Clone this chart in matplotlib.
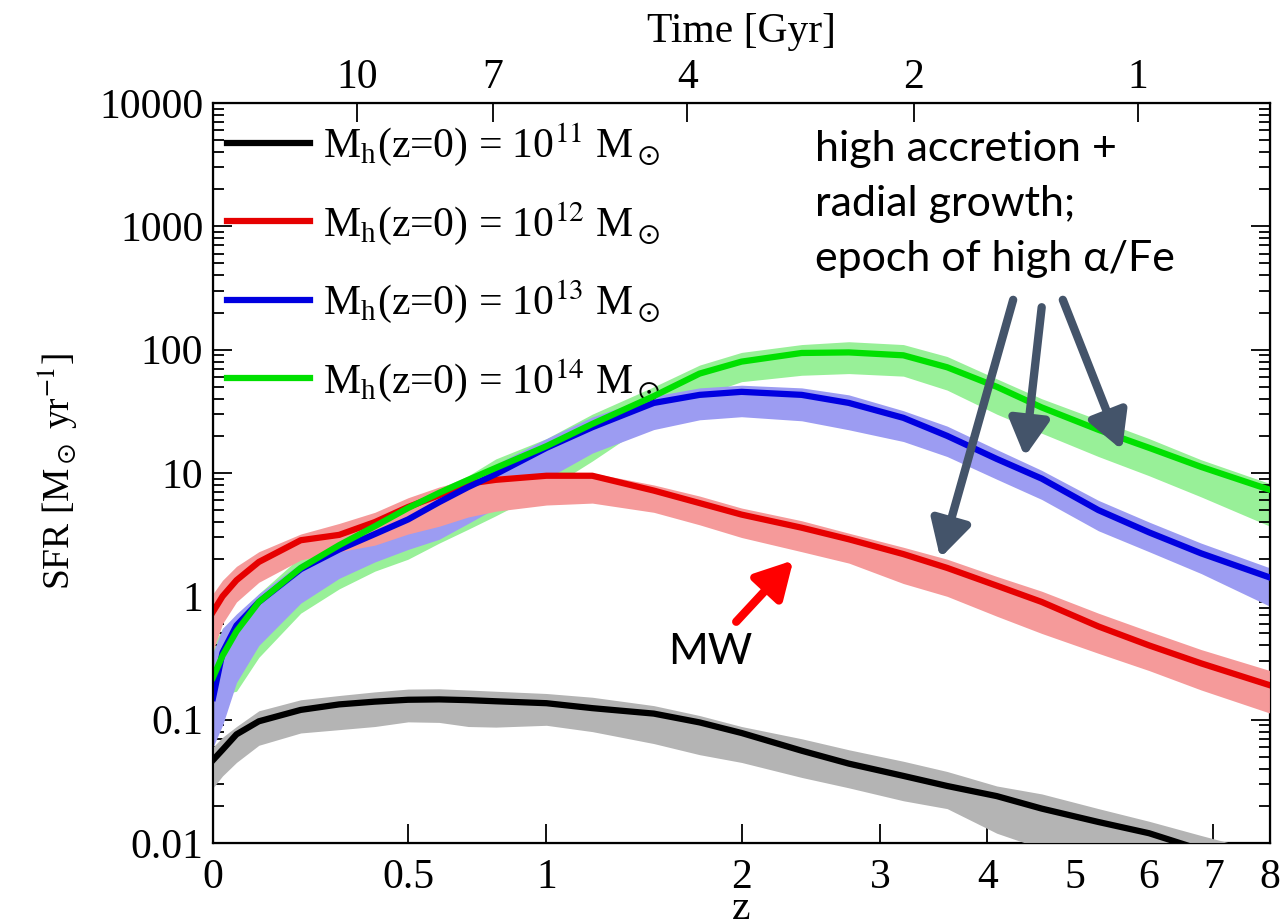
import numpy as np
import matplotlib
matplotlib.use('Agg')
import matplotlib.pyplot as plt
from matplotlib.ticker import NullLocator, LogLocator, NullFormatter

plt.rcParams['font.family'] = ['Liberation Serif', 'DejaVu Serif']
plt.rcParams['mathtext.fontset'] = 'stix'

# redshift grid the curves were read at
z = [0, 0.02, 0.05, 0.1, 0.2, 0.3, 0.4, 0.5, 0.6, 0.7, 0.8, 1.0, 1.2, 1.5, 1.75,
     2.0, 2.4, 2.75, 3.2, 3.6, 4.1, 4.6, 5.3, 6.0, 6.8, 8.0]

# SFR [Msun/yr] median and band edges for each halo mass
sfr_11 = [0.047, 0.057, 0.076, 0.097, 0.12, 0.133, 0.14, 0.145, 0.146, 0.144, 0.141, 0.136,
          0.124, 0.112, 0.095, 0.078, 0.056, 0.044, 0.035, 0.029, 0.024, 0.019, 0.0148,
          0.012, 0.0088, 0.006]
sfr_11_hi = [0.06, 0.072, 0.088, 0.118, 0.145, 0.157, 0.168, 0.177, 0.178, 0.174, 0.17, 0.163,
             0.152, 0.13, 0.108, 0.088, 0.07, 0.057, 0.046, 0.038, 0.029, 0.025, 0.019,
             0.015, 0.0115, 0.0082]
sfr_11_lo = [0.028, 0.035, 0.045, 0.062, 0.078, 0.083, 0.088, 0.096, 0.095, 0.088, 0.087, 0.09,
             0.08, 0.064, 0.052, 0.045, 0.034, 0.028, 0.022, 0.019, 0.012, 0.009, 0.0065,
             0.005, 0.004, 0.003]

sfr_12 = [0.75, 1.0, 1.35, 1.9, 2.85, 3.15, 4.0, 5.3, 6.6, 8.2, 8.8, 9.5, 9.5, 7.2, 5.7,
          4.6, 3.6, 2.9, 2.2, 1.7, 1.22, 0.9, 0.57, 0.4, 0.286, 0.19]
sfr_12_hi = [1.05, 1.35, 1.75, 2.3, 3.2, 3.9, 4.8, 6.3, 7.7, 8.9, 9.5, 10.0, 10.0, 8.0, 6.5,
             5.2, 4.1, 3.25, 2.5, 2.0, 1.45, 1.1, 0.73, 0.52, 0.37, 0.25]
sfr_12_lo = [0.36, 0.6, 0.9, 1.3, 1.97, 2.3, 2.6, 3.2, 3.7, 4.4, 4.9, 5.5, 5.7, 4.8, 3.8,
             3.0, 2.3, 1.86, 1.27, 1.0, 0.69, 0.5, 0.345, 0.25, 0.174, 0.113]

sfr_13 = [0.15, 0.35, 0.58, 0.9, 1.66, 2.4, 3.2, 4.2, 5.8, 7.7, 9.8, 16, 23.5, 37, 43,
          45.5, 43, 37, 28, 20, 13, 9.0, 5.0, 3.3, 2.23, 1.42]
sfr_13_hi = [0.35, 0.55, 0.72, 1.05, 1.86, 2.6, 3.5, 4.8, 6.6, 8.8, 11.8, 19, 28.5, 42, 49,
             51.5, 49, 43, 32, 24, 15.5, 10.5, 6.0, 4.0, 2.7, 1.7]
sfr_13_lo = [0.06, 0.09, 0.2, 0.4, 0.88, 1.4, 1.9, 2.4, 2.9, 3.9, 5.2, 9.0, 14.5, 22.5, 27,
             28.6, 26.5, 22.4, 18, 13.6, 8.9, 6.1, 3.4, 2.3, 1.53, 0.83]

sfr_14 = [0.22, 0.33, 0.52, 0.9, 1.7, 2.6, 3.7, 5.2, 6.9, 8.8, 11, 16.5, 25, 42, 64,
          80, 94, 95, 90, 72, 50, 34, 22.4, 16, 11.2, 7.3]
sfr_14_hi = [0.4, 0.55, 0.68, 1.05, 2.1, 3.0, 4.1, 5.6, 7.5, 9.5, 13, 19, 30, 50, 75,
             95, 110, 116, 110, 88, 58, 40, 27, 19, 12.8, 8.2]
sfr_14_lo = [0.16, 0.16, 0.17, 0.32, 0.73, 1.15, 1.6, 2.0, 2.7, 3.5, 4.5, 7.3, 12.5, 27, 42,
             55, 62, 64, 61, 47, 30, 21, 13.6, 9.5, 6.4, 3.7]

labels = [r'M$_\mathregular{h}$(z=0) = 10$^{11}$ M$_\odot$',
          r'M$_\mathregular{h}$(z=0) = 10$^{12}$ M$_\odot$',
          r'M$_\mathregular{h}$(z=0) = 10$^{13}$ M$_\odot$',
          r'M$_\mathregular{h}$(z=0) = 10$^{14}$ M$_\odot$']

z_ticks = [0, 0.5, 1, 2, 3, 4, 5, 6, 7, 8]
z_tick_labels = ['0', '0.5', '1', '2', '3', '4', '5', '6', '7', '8']
age_tick_z = [0.35, 0.79, 1.68, 3.29, 5.84]
age_tick_labels = ['10', '7', '4', '2', '1']
y_ticks = [0.01, 0.1, 1, 10, 100, 1000, 10000]
y_tick_labels = ['0.01', '0.1', '1', '10', '100', '1000', '10000']


def fwd(x):
    return np.log10(np.clip(1 + np.asarray(x, dtype=float), 1e-6, None))


def inv(u):
    return 10 ** np.asarray(u, dtype=float) - 1


fig = plt.figure(figsize=(12.83, 9.19), dpi=100)
ax = fig.add_axes([213 / 1283, 1 - 843 / 919, 1057 / 1283, 740 / 919])
ax.set_xscale('function', functions=(fwd, inv))
ax.set_yscale('log')

# bands first (green under blue under red), then the lines
ax.fill_between(z, sfr_14_lo, sfr_14_hi, color='#98f098', lw=0, zorder=1)
ax.fill_between(z, sfr_13_lo, sfr_13_hi, color='#9c9cf2', lw=0, zorder=2)
ax.fill_between(z, sfr_12_lo, sfr_12_hi, color='#f59a9a', lw=0, zorder=3)
ax.fill_between(z, sfr_11_lo, sfr_11_hi, color='#b4b4b4', lw=0, zorder=3)

ax.plot(z, sfr_11, color='black', lw=4.5, label=labels[0], zorder=5)
ax.plot(z, sfr_12, color='#e60000', lw=4.5, label=labels[1], zorder=6)
ax.plot(z, sfr_13, color='#0000e0', lw=4.5, label=labels[2], zorder=7)
ax.plot(z, sfr_14, color='#00e000', lw=4.5, label=labels[3], zorder=8)

ax.set_xlim(0, 8)
ax.set_ylim(0.01, 10000)
ax.set_xticks(z_ticks, z_tick_labels)
ax.xaxis.set_minor_locator(NullLocator())
ax.set_yticks(y_ticks, y_tick_labels)
ax.yaxis.set_minor_locator(LogLocator(subs=np.arange(2, 10)))
ax.yaxis.set_minor_formatter(NullFormatter())
ax.tick_params(which='both', direction='in', right=True, top=False, width=1.3)
ax.tick_params(which='major', length=14, labelsize=30)
ax.tick_params(which='minor', length=8)
ax.tick_params(axis='x', pad=11)
ax.tick_params(axis='y', pad=7)
for s in ax.spines.values():
    s.set_linewidth(1.6)

ax.set_xlabel('z', fontsize=30)
ax.xaxis.set_label_coords(0.5, -0.063)
ax.set_ylabel(r'SFR [M$_\odot$ yr$^{-1}$]', fontsize=27)
ax.yaxis.set_label_coords(-0.126, 0.503)

# top axis: cosmic time
ax2 = ax.twiny()
ax2.set_xscale('function', functions=(fwd, inv))
ax2.set_xlim(0, 8)
ax2.set_xticks(age_tick_z, age_tick_labels)
ax2.xaxis.set_minor_locator(NullLocator())
ax2.tick_params(direction='in', length=14, width=1.3, labelsize=30, pad=4)
ax2.set_xlabel('Time [Gyr]', fontsize=30, labelpad=12)

ax.legend(loc='upper left', bbox_to_anchor=(0.013, 0.975), frameon=False, fontsize=30,
          handlelength=2.0, handletextpad=0.3, labelspacing=0.76, borderpad=0,
          borderaxespad=0)

# annotations
ax.text(0.57, 0.963, 'high accretion +\nradial growth;\nepoch of high α/Fe',
        transform=ax.transAxes, ha='left', va='top', fontsize=31,
        family=['Lato', 'DejaVu Sans'], linespacing=1.55, zorder=10)
arrow_tails = [(0.757, 0.734), (0.784, 0.724), (0.804, 0.734)]
arrow_heads = [(0.688, 0.385), (0.768, 0.522), (0.860, 0.531)]
for tail, head in zip(arrow_tails, arrow_heads):
    ax.annotate('', xy=head, xytext=tail, xycoords='axes fraction',
                textcoords='axes fraction', zorder=10,
                arrowprops=dict(arrowstyle='-|>,head_length=1.0,head_width=0.55',
                                color='#44546a', lw=6, mutation_scale=22,
                                shrinkA=0, shrinkB=0))

ax.annotate('', xy=(0.549, 0.382), xytext=(0.495, 0.299), xycoords='axes fraction',
            textcoords='axes fraction', zorder=10,
            arrowprops=dict(arrowstyle='-|>,head_length=1.0,head_width=0.55',
                            color='#ff0000', lw=6, mutation_scale=22,
                            shrinkA=0, shrinkB=0))
ax.text(0.470, 0.258, 'MW', transform=ax.transAxes, ha='center', va='center',
        fontsize=31, family=['Lato', 'DejaVu Sans'], zorder=10)

fig.savefig('out.png', dpi=100)
